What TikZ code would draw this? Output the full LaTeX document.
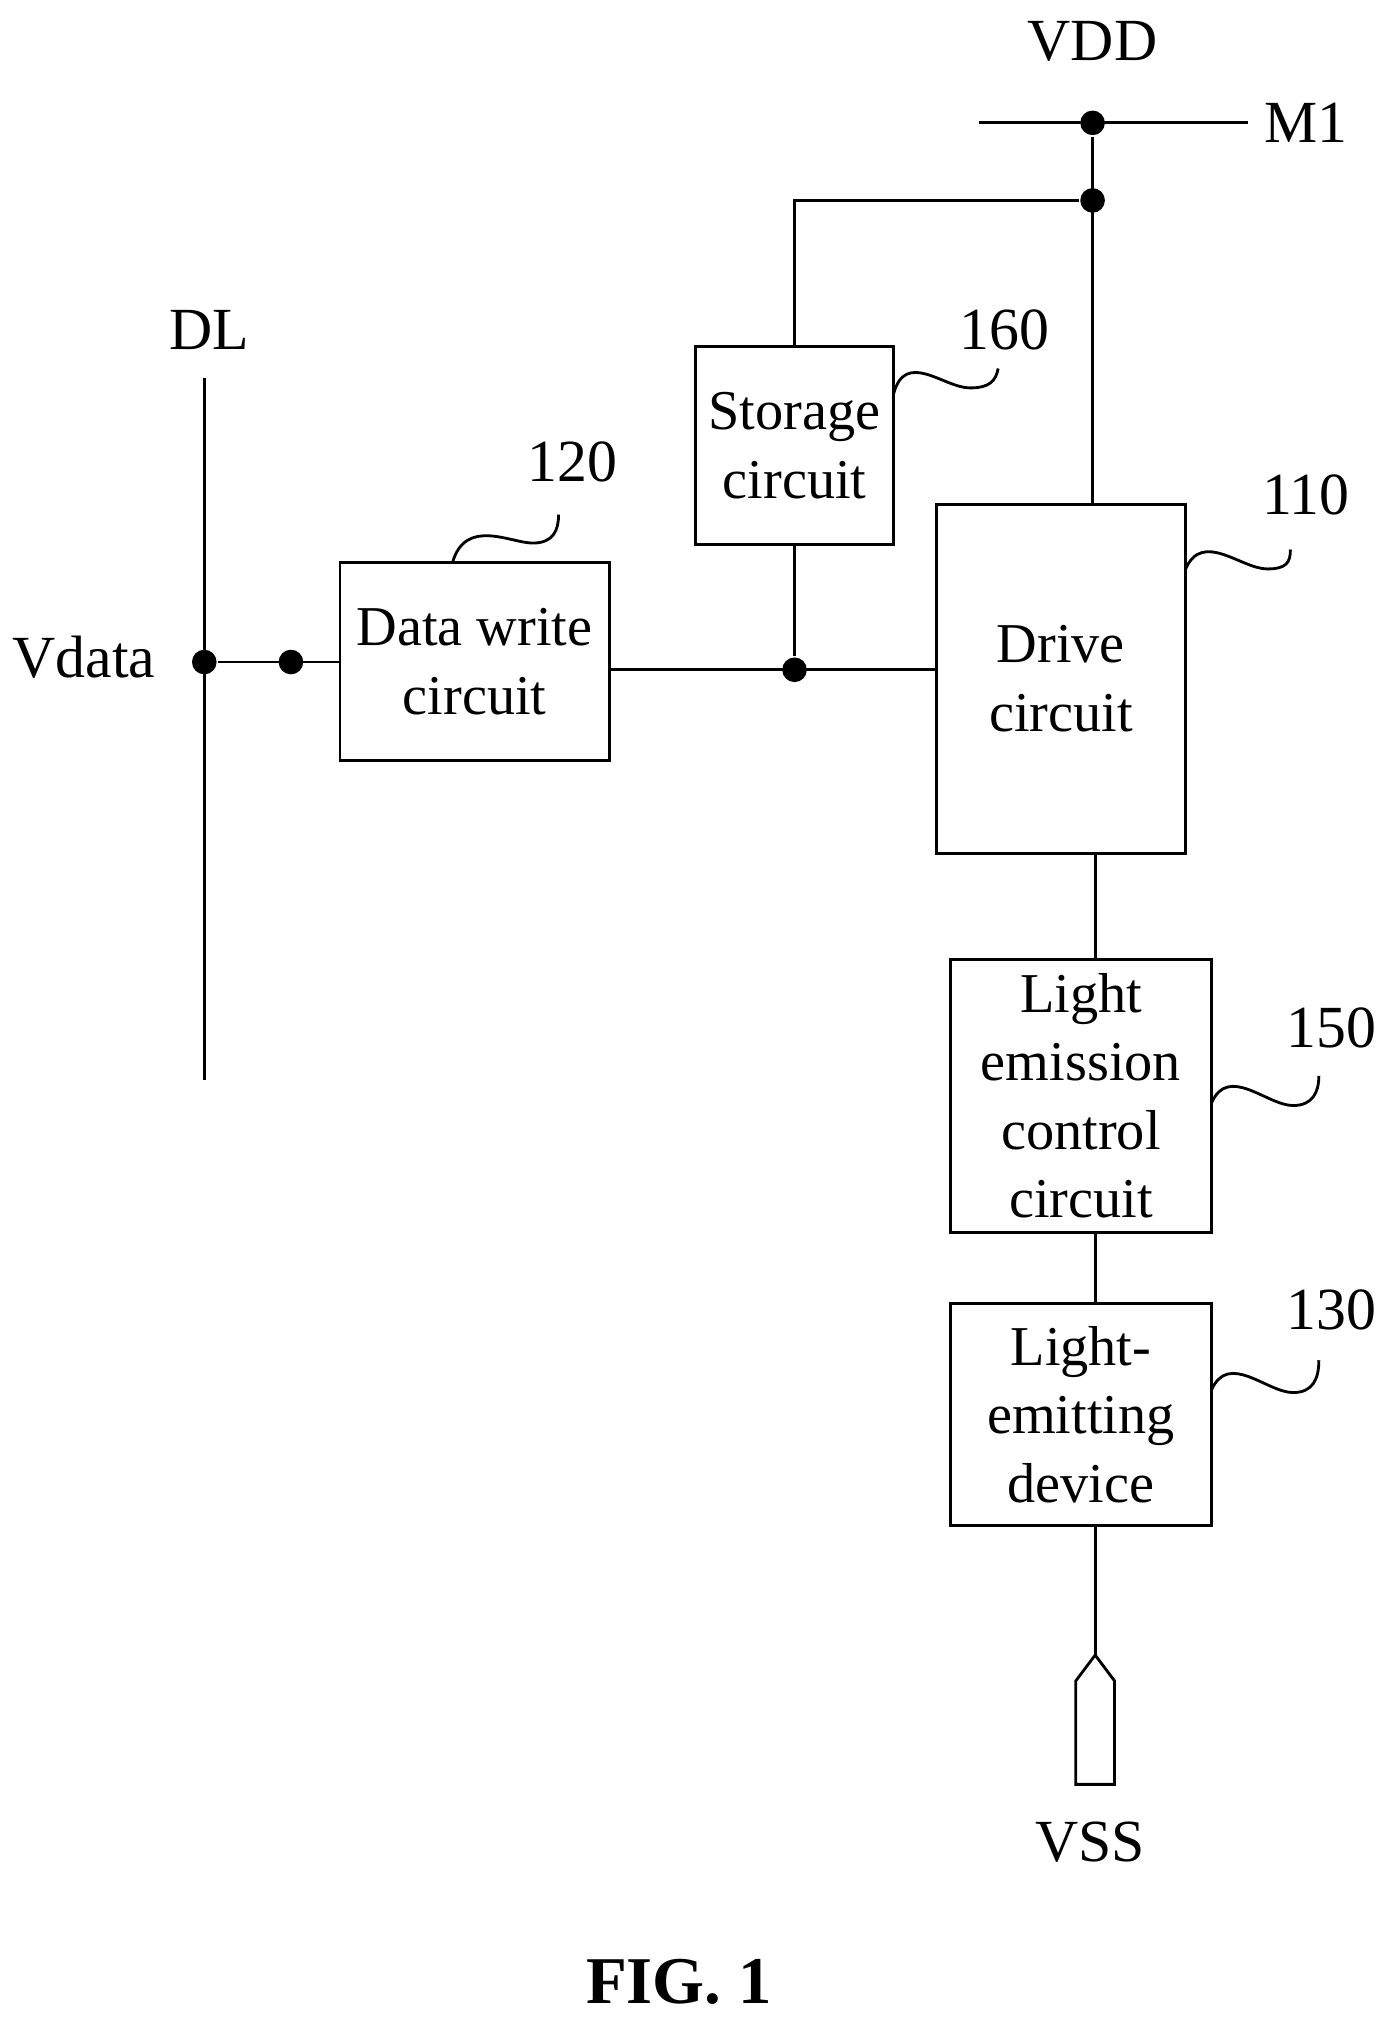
\documentclass[tikz,border=0pt]{standalone}
\usepackage{fontspec}
\setmainfont{Liberation Serif}
\begin{document}
\begin{tikzpicture}[x=0.012926cm,y=-0.012926cm,line width=0.8pt,
  block/.style={draw, align=center, font=\fontsize{16}{19.5}\selectfont},
  lbl/.style={font=\fontsize{17}{20}\selectfont},
  dot/.style={circle, fill, inner sep=0pt, minimum size=7pt}]
  \useasboundingbox (0,0) rectangle (1080,1570);
  \tikzstyle{every node}=[lbl]

  % blocks
  \node[block, minimum width=1.98cm, minimum height=1.98cm] (store) at (614.5,344.5) {Storage\\circuit};
  \node[block, minimum width=2.49cm, minimum height=3.49cm] (drive) at (820.5,525) {Drive\\circuit};
  \node[block, minimum width=2.69cm, minimum height=1.98cm] (write) at (367,511.5) {Data write\\circuit};
  \node[block, minimum width=2.61cm, minimum height=2.73cm] (emctl) at (836,847.5) {Light\\emission\\control\\circuit};
  \node[block, minimum width=2.61cm, minimum height=2.22cm] (led) at (836,1094) {Light-\\emitting\\device};

  % labels
  \node (vdd) at (845,32) {VDD};
  \node (m1) at (1010,95) {M1};
  \node (dl) at (162,255) {DL};
  \node (vdata) at (65,508) {Vdata};
  \node (vss) at (843,1425) {VSS};
  \node (n160) at (777,255) {160};
  \node (n110) at (1010,383) {110};
  \node (n120) at (443,357) {120};
  \node (n150) at (1030,795) {150};
  \node (n130) at (1030,1013) {130};
  \node[font=\fontsize{19}{22}\selectfont\bfseries] (fig) at (525,1533) {FIG. 1};

  % dots
  \node[dot] (d1) at (845,95) {};
  \node[dot] (d2) at (845,155) {};
  \node[dot] (d3) at (614.5,518) {};
  \node[dot] (d4) at (158,512) {};
  \node[dot] (d5) at (225,512) {};
  \coordinate (m1l) at (757,95);
  \coordinate (m1r) at (965,95);
  \coordinate (dltop) at (158,292);
  \coordinate (dlbot) at (158,835);
  \coordinate (tip) at (847,1280);

  % wires
  \draw (m1l) -- (m1r);
  \draw (d1) -- (drive.north -| d1);
  \draw (d2) -| (store.north);
  \draw (store.south) -- (d3);
  \draw (write.east |- d3) -- (drive.west |- d3);
  \draw (dltop) -- (dlbot);
  \draw (d4) -- (write.west |- d4);
  \draw (drive.south -| tip) -- (emctl.north -| tip);
  \draw (emctl.south -| tip) -- (led.north -| tip);
  \draw (led.south -| tip) -- (tip);
  \draw (tip) -- ++(-15,20) -- ++(0,80) -- ++(30,0) -- ++(0,-80) -- cycle;

  % leader waves
  \draw (691,305) .. controls (700,270) and (730,300) .. (750,300) .. controls (765,300) and (770,295) .. (772,285);
  \draw (917,440) .. controls (930,410) and (960,440) .. (980,440) .. controls (995,440) and (998,435) .. (998,425);
  \draw (350,435) .. controls (360,400) and (395,420) .. (412,420) .. controls (428,420) and (432,410) .. (432,398);
  \draw (937,853) .. controls (950,823) and (980,855) .. (1000,855) .. controls (1015,855) and (1020,845) .. (1020,832);
  \draw (937,1075) .. controls (950,1045) and (980,1077) .. (1000,1077) .. controls (1015,1077) and (1020,1067) .. (1020,1052);
\end{tikzpicture}
\end{document}
